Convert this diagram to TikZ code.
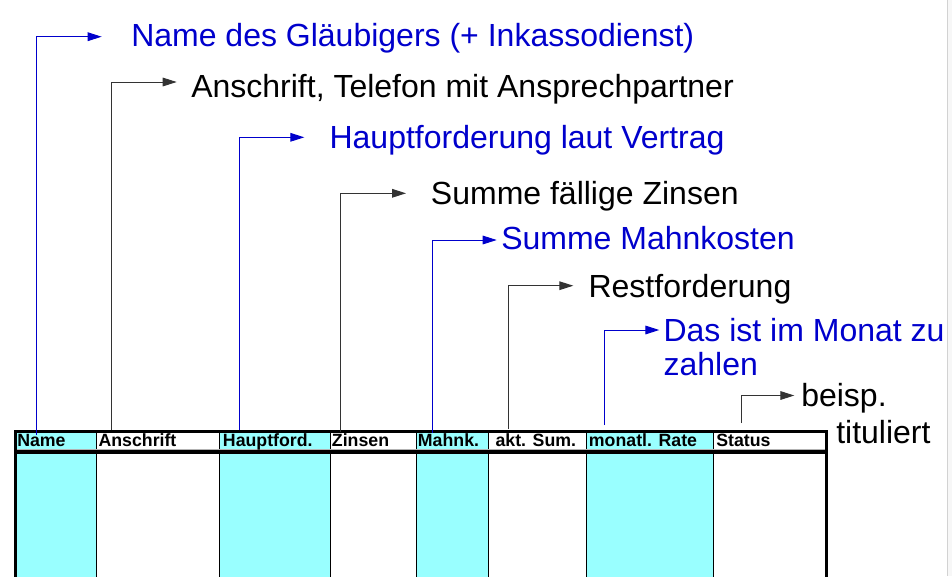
\documentclass[tikz,border=0pt]{standalone}
\usepackage{fontspec}
\setmainfont{Liberation Sans}
\usepackage{xcolor}
\usetikzlibrary{arrows.meta}
\definecolor{lblue}{RGB}{0,0,204}
\definecolor{lcyan}{RGB}{153,255,255}
\tikzset{
  lbl/.style={anchor=base west, inner sep=0pt, font=\fontsize{24}{26}\selectfont},
  hdr/.style={anchor=base west, inner sep=0pt, font=\fontsize{13.3}{14}\selectfont\bfseries},
  lnk/.style={line width=0.75pt, -{Triangle[length=10.5pt,width=6.5pt]}},
}

\begin{document}
\begin{tikzpicture}[x=0.75pt,y=-0.75pt]
\useasboundingbox (0,0) rectangle (952,576);
\fill[gray!6] (947,0) rectangle (952,576);
\draw[gray!35, line width=0.75pt] (947,0) -- (947,576);

\fill[lcyan] (15,431) rectangle (96.3,578);
\fill[lcyan] (219.3,431) rectangle (330.3,578);
\fill[lcyan] (416.7,431) rectangle (488.7,578);
\fill[lcyan] (586.3,431) rectangle (713.7,578);
\foreach \x in {96.3,219.3,330.3,416.7,488.7,586.3,713.7}
  \draw[line width=0.75pt] (\x,431) -- (\x,578);
\draw[gray!60, line width=0.75pt] (15,449.3) -- (826.5,449.3);
\draw[line width=3pt] (15,452.2) -- (826.5,452.2);
\draw[line width=2.25pt] (15.3,578) -- (15.3,431) -- (826.5,431) -- (826.5,578);
\draw[line width=1pt] (826.5,431) -- (826.5,578);

\node[hdr] (hName) at (17,446) {Name};
\node[hdr] (hAnschrift) at (98.3,446) {Anschrift};
\node[hdr] (hHaupt) at (222.7,446) {Hauptford.};
\node[hdr] (hZinsen) at (331.7,446) {Zinsen};
\node[hdr] (hMahn) at (417.7,446) {Mahnk.};
\node[hdr] (hSum) at (495.3,446) {akt. Sum.};
\node[hdr] (hRate) at (588.7,446) {monatl. Rate};
\node[hdr] (hStatus) at (716,446) {Status};

\node[lbl, lblue] (tName) at (131,46.7) {Name des Gläubigers (+ Inkassodienst)};
\node[lbl] (tAnschrift) at (191,97) {Anschrift, Telefon mit Ansprechpartner};
\node[lbl, lblue] (tHaupt) at (329.3,148.3) {Hauptforderung laut Vertrag};
\node[lbl] (tZinsen) at (430.7,204.3) {Summe fällige Zinsen};
\node[lbl, lblue] (tMahn) at (501,249) {Summe Mahnkosten};
\node[lbl] (tRest) at (588.3,297.7) {Restforderung};
\node[lbl, lblue] (tRate) at (663.3,341.7) {Das ist im Monat zu};
\node[lbl, lblue] (tRateB) at (663.3,375.7) {zahlen};
\node[lbl] (tStatus) at (801,406.7) {beisp.};
\node[lbl] (tStatusB) at (836,443.3) {tituliert};

\coordinate (fName) at (36.7,435);
\coordinate (pName) at (101.7,36.7);
\coordinate (fAnschrift) at (111,430);
\coordinate (pAnschrift) at (176.7,82);
\coordinate (fHaupt) at (239.3,430);
\coordinate (pHaupt) at (304.3,137.3);
\coordinate (fZinsen) at (340.7,432);
\coordinate (pZinsen) at (406,193.3);
\coordinate (fMahn) at (432,433);
\coordinate (pMahn) at (496.7,240);
\coordinate (fSum) at (508,429);
\coordinate (pSum) at (573.3,285.7);
\coordinate (fRate) at (604.3,425);
\coordinate (pRate) at (659.3,330);
\coordinate (fStatus) at (741,423);
\coordinate (pStatus) at (794.3,395.5);

\draw[lnk, lblue] (fName) |- (pName);
\draw[lnk, black!80] (fAnschrift) |- (pAnschrift);
\draw[lnk, lblue] (fHaupt) |- (pHaupt);
\draw[lnk, black!80] (fZinsen) |- (pZinsen);
\draw[lnk, lblue] (fMahn) |- (pMahn);
\draw[lnk, black!80] (fSum) |- (pSum);
\draw[lnk, lblue] (fRate) |- (pRate);
\draw[lnk, black!80] (fStatus) |- (pStatus);
\end{tikzpicture}
\end{document}
